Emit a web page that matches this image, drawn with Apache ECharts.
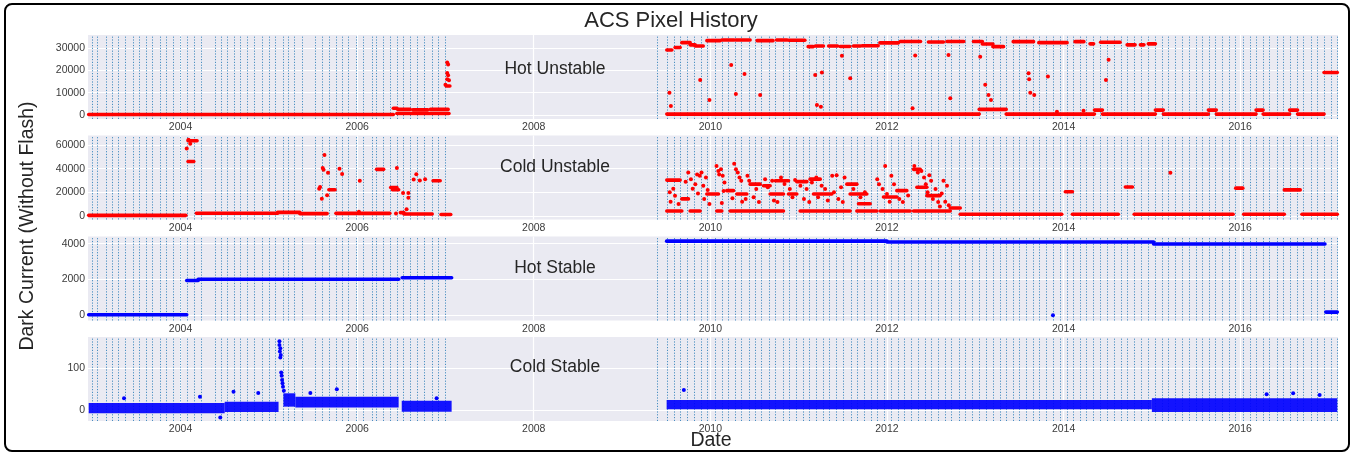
<!DOCTYPE html>
<html><head><meta charset="utf-8">
<script src="https://cdn.jsdelivr.net/npm/echarts@6/dist/echarts.min.js"></script>
<style>html,body{margin:0;padding:0;background:#fff}#c{width:1354px;height:453px}</style>
</head><body><div id="c"></div>
<script>
// ---------- data (decimal years) ----------
const yearTicks = [2004, 2006, 2008, 2010, 2012, 2014, 2016];
const annealDates = [
  2003.001, 2003.058, 2003.160, 2003.232, 2003.300, 2003.371, 2003.470, 2003.533, 2003.613, 2003.685,
  2003.771, 2003.844, 2003.918, 2004.002, 2004.077, 2004.156, 2004.229, 2004.387, 2004.462, 2004.530,
  2004.606, 2004.682, 2004.761, 2004.840, 2004.920, 2004.999, 2005.073, 2005.164, 2005.221, 2005.289,
  2005.376, 2005.531, 2005.606, 2005.682, 2005.761, 2005.833, 2005.897, 2005.991, 2006.067, 2006.166,
  2006.222, 2006.297, 2006.370, 2006.449, 2006.524, 2006.600, 2006.679, 2006.762, 2006.845, 2006.925,
  2007.000,
  2009.398, 2009.511, 2009.590, 2009.662, 2009.745, 2009.820, 2009.896, 2009.967, 2010.051, 2010.130,
  2010.202, 2010.278, 2010.352, 2010.436, 2010.508, 2010.584, 2010.670, 2010.738, 2010.817, 2010.893,
  2010.972, 2011.048, 2011.119, 2011.202, 2011.281, 2011.349, 2011.429, 2011.508, 2011.587, 2011.663,
  2011.739, 2011.818, 2011.893, 2011.972, 2012.045, 2012.131, 2012.199, 2012.271, 2012.351, 2012.430,
  2012.501, 2012.577, 2012.660, 2012.731, 2012.819, 2012.890, 2012.969, 2013.045, 2013.121, 2013.196,
  2013.275, 2013.351, 2013.427, 2013.502, 2013.578, 2013.657, 2013.728, 2013.804, 2013.875, 2013.959,
  2014.042, 2014.113, 2014.186, 2014.261, 2014.344, 2014.424, 2014.498, 2014.574, 2014.650, 2014.725,
  2014.804, 2014.880, 2014.956, 2015.035, 2015.115, 2015.189, 2015.265, 2015.337, 2015.416, 2015.500,
  2015.571, 2015.650, 2015.722, 2015.801, 2015.877, 2015.953, 2016.032, 2016.107, 2016.183, 2016.259,
  2016.333, 2016.421, 2016.489, 2016.568, 2016.647, 2016.723, 2016.798, 2016.874, 2016.950, 2017.029,
  2017.100
];

// Hot Unstable: dense runs [startYear, endYear, value] and single points [year, value]
const hotUnstableRuns = [
  [2002.96, 2006.41, 200], [2006.41, 2006.45, 3000], [2006.46, 2006.60, 2500], [2006.63, 2006.80, 2300],
  [2006.83, 2007.03, 2500], [2006.45, 2007.04, 700], [2007.01, 2007.05, 13000],
  [2009.507, 2013.045, 400], [2013.045, 2013.35, 2500], [2013.35, 2014.35, 400], [2014.35, 2014.44, 2200],
  [2014.44, 2015.04, 400], [2015.04, 2015.13, 2200], [2015.13, 2015.64, 400], [2015.64, 2015.73, 2200],
  [2015.73, 2016.18, 400], [2016.18, 2016.26, 2200], [2016.26, 2016.56, 400], [2016.56, 2016.65, 2200],
  [2016.65, 2016.95, 400], [2016.95, 2017.10, 19000],
  [2009.507, 2009.564, 29100], [2009.601, 2009.658, 30200], [2009.677, 2009.771, 32400],
  [2009.771, 2009.828, 31400], [2009.828, 2009.919, 30900], [2009.961, 2010.11, 33300],
  [2010.13, 2010.27, 33600], [2010.29, 2010.45, 33600], [2010.53, 2010.71, 33300], [2010.75, 2010.87, 33600],
  [2010.89, 2011.07, 33500], [2011.108, 2011.165, 30600], [2011.19, 2011.28, 30900], [2011.34, 2011.44, 30900],
  [2011.47, 2011.58, 30700], [2011.62, 2011.70, 30900], [2011.72, 2011.90, 31000], [2011.92, 2012.13, 32300],
  [2012.15, 2012.38, 32900], [2012.47, 2012.64, 32700], [2012.68, 2012.87, 32900], [2012.98, 2013.08, 32900],
  [2013.08, 2013.20, 31800], [2013.20, 2013.32, 30600], [2013.43, 2013.66, 32850], [2013.72, 2014.04, 32400],
  [2014.13, 2014.23, 32850], [2014.30, 2014.34, 31850], [2014.42, 2014.64, 32600], [2014.72, 2014.81, 31400],
  [2014.87, 2014.91, 31400], [2014.96, 2015.04, 31850]
];
const hotUnstablePoints = [
  [2007.02, 23500], [2007.03, 22600], [2007.02, 18800], [2007.03, 17800], [2007.02, 16000], [2007.04, 15600],
  [2007.00, 13500],
  [2009.537, 10000], [2009.553, 4000], [2009.885, 15700], [2009.99, 6700], [2010.236, 22400], [2010.289, 9400],
  [2010.387, 18400], [2010.564, 9000], [2011.187, 17900], [2011.207, 4500], [2011.252, 3700], [2011.263, 19000],
  [2011.49, 26500], [2011.584, 16500], [2012.29, 3000], [2012.32, 26600], [2012.697, 26900], [2012.717, 7500],
  [2013.056, 26100], [2013.113, 13500], [2013.15, 9000], [2013.178, 6700], [2013.604, 18700], [2013.61, 16000],
  [2013.623, 10000], [2013.668, 9000], [2013.823, 17200], [2014.48, 15700], [2014.51, 24700],
  [2013.925, 1500], [2014.226, 1900]
];

// Cold Unstable
const coldUnstableRuns = [
  [2002.96, 2004.06, 500], [2004.085, 2004.187, 63500], [2004.085, 2004.15, 46000], [2004.18, 2005.10, 2300],
  [2005.10, 2005.35, 3000], [2005.35, 2005.66, 2000], [2005.68, 2005.75, 22200], [2005.76, 2006.37, 2200],
  [2006.22, 2006.30, 39400], [2006.38, 2006.45, 24000], [2006.40, 2006.47, 22200], [2006.49, 2006.53, 2800],
  [2006.53, 2006.85, 1700], [2006.86, 2006.94, 29700], [2006.95, 2007.06, 1200],
  [2009.507, 2009.658, 30300], [2009.507, 2009.677, 4200], [2009.677, 2009.752, 14400], [2009.771, 2009.884, 4200],
  [2009.960, 2010.092, 18600], [2010.073, 2010.130, 4200], [2010.186, 2010.262, 21400], [2010.224, 2010.828, 4200],
  [2010.300, 2010.413, 18600], [2010.451, 2010.564, 26900], [2010.602, 2010.677, 25500], [2010.677, 2010.828, 18600],
  [2010.734, 2010.885, 29700], [2010.885, 2010.979, 18600], [2010.979, 2011.093, 29000], [2011.017, 2011.583, 4200],
  [2011.130, 2011.244, 31100], [2011.168, 2011.376, 18600], [2011.546, 2011.659, 26900], [2011.583, 2011.772, 18600],
  [2011.678, 2011.810, 10300], [2011.659, 2011.886, 4200], [2011.961, 2012.112, 16000], [2012.112, 2012.225, 21400],
  [2011.924, 2012.263, 4200], [2012.301, 2012.377, 39400], [2012.339, 2012.452, 24200], [2012.452, 2012.603, 17200],
  [2012.301, 2012.716, 4200], [2012.716, 2012.830, 6700],
  [2012.83, 2013.98, 1500], [2014.02, 2014.10, 20500], [2014.10, 2014.62, 1500], [2014.70, 2014.78, 24500],
  [2014.80, 2015.92, 1500], [2015.95, 2016.03, 23500], [2016.04, 2016.50, 1500], [2016.50, 2016.68, 22000],
  [2016.70, 2017.10, 1500]
];
const coldUnstablePoints = [
  [2004.07, 57000], [2004.11, 61000], [2004.09, 64500],
  [2005.57, 23000], [2005.58, 24500], [2005.60, 14500], [2005.63, 51500], [2005.61, 40500], [2005.62, 39000],
  [2005.67, 36500], [2005.66, 17500], [2005.80, 40000], [2005.83, 35500], [2006.03, 29700], [2006.02, 3500],
  [2006.45, 40600], [2006.44, 2000], [2006.52, 19400], [2006.58, 19500], [2006.58, 15300], [2006.56, 5600],
  [2006.64, 30800], [2006.67, 35300], [2006.71, 30000], [2006.77, 31000],
  [2009.54, 20000], [2009.58, 23000], [2009.60, 17000], [2009.55, 12000], [2009.64, 10000],
  [2009.72, 29000], [2009.75, 36700], [2009.78, 31000], [2009.80, 23000], [2009.83, 26900], [2009.85, 35000],
  [2009.86, 19000], [2009.88, 34000], [2009.90, 36700], [2009.92, 25500], [2009.93, 14400], [2009.95, 32500],
  [2009.97, 22000], [2009.99, 10000],
  [2010.07, 42200], [2010.09, 38000], [2010.10, 35000], [2010.12, 39400], [2010.14, 33900], [2010.16, 28300],
  [2010.15, 21000], [2010.13, 11000],
  [2010.27, 44100], [2010.29, 39400], [2010.31, 36700], [2010.33, 32500], [2010.35, 29700], [2010.25, 15000],
  [2010.36, 12000], [2010.40, 14400], [2010.42, 33900], [2010.44, 29700], [2010.49, 15800], [2010.52, 22800],
  [2010.55, 11700],
  [2010.62, 31000], [2010.65, 24200], [2010.70, 29700], [2010.72, 13000], [2010.76, 11700], [2010.80, 32500],
  [2010.84, 27000], [2010.90, 22800], [2010.93, 15800], [2010.96, 30300],
  [2011.02, 25500], [2011.06, 14400], [2011.09, 22800], [2011.12, 11700], [2011.15, 28300], [2011.20, 32500],
  [2011.22, 15800], [2011.26, 25500], [2011.30, 22800], [2011.33, 13000], [2011.38, 33900], [2011.40, 20000],
  [2011.43, 34500], [2011.45, 14400], [2011.48, 24200], [2011.50, 11700], [2011.52, 32500],
  [2011.62, 22800], [2011.70, 15800], [2011.75, 20000], [2011.89, 31100], [2011.91, 26900], [2011.95, 22800],
  [2011.98, 42200], [2012.00, 18600], [2012.03, 12000], [2012.05, 33900], [2012.08, 26900], [2012.14, 14400],
  [2012.18, 11700], [2012.24, 17200],
  [2012.31, 42200], [2012.35, 36700], [2012.39, 38000], [2012.42, 32500], [2012.44, 26900], [2012.46, 20000],
  [2012.48, 34500], [2012.50, 29700], [2012.52, 14400], [2012.55, 22800], [2012.58, 11700], [2012.60, 8000],
  [2012.62, 19000], [2012.64, 29700], [2012.66, 12000], [2012.68, 25500], [2012.70, 9000],
  [2015.21, 36500]
];

// Hot Stable
const hotStableRuns = [
  [2002.96, 2004.07, 30], [2004.07, 2004.20, 1940], [2004.20, 2006.47, 2010], [2006.51, 2007.07, 2100],
  [2009.505, 2012.0, 4140], [2012.0, 2015.02, 4090], [2015.02, 2016.96, 3980], [2016.97, 2017.10, 180]
];
const hotStablePoints = [[2013.88, 0]];

// Cold Stable: noisy runs [startYear, endYear, low, high] and single points
const coldStableRanges = [
  [2002.96, 2004.5, -8, 17], [2004.5, 2005.11, -5, 20], [2005.165, 2005.30, 8, 40], [2005.30, 2006.47, 6, 32],
  [2006.505, 2007.07, -4, 22], [2009.505, 2015.0, 2, 24], [2015.0, 2017.10, -5, 28]
];
const coldStablePoints = [
  [2005.12, 165], [2005.12, 156], [2005.13, 148], [2005.125, 140], [2005.135, 132], [2005.13, 126],
  [2005.14, 90], [2005.145, 82], [2005.15, 72], [2005.155, 64], [2005.16, 56], [2005.17, 46],
  [2003.36, 28], [2004.22, 32], [2004.60, 44], [2004.88, 41], [2005.47, 41], [2005.77, 50], [2006.90, 28],
  [2004.45, -18], [2009.70, 48], [2016.3, 38], [2016.6, 40], [2016.9, 36]
];

const panelNames = ['Hot Unstable', 'Cold Unstable', 'Hot Stable', 'Cold Stable'];
const yTicks = [[0, 10000, 20000, 30000], [0, 20000, 40000, 60000], [0, 2000, 4000], [0, 100]];
const yRanges = [[-1790, 35820], [-3000, 68000], [-290, 4400], [-26.4, 175]];

// ---------- layout / styles ----------
const X_MIN = 2002.952, X_MAX = 2017.108;
const gridTops = [35, 135.5, 236.5, 337];
const GRID_H = 84;
const FONT = 'Liberation Sans, Arial, sans-serif';
const RED = '#ff0000', BLUE = '#0000ff';

const chart = echarts.init(document.getElementById('c'), null, {renderer: 'canvas'});

function runRender(color, width) {
  return function (params, api) {
    const p1 = api.coord([api.value(0), api.value(2)]);
    const p2 = api.coord([api.value(1), api.value(2)]);
    return {type: 'line', shape: {x1: p1[0], y1: p1[1], x2: p2[0], y2: p2[1]},
      style: {stroke: color, lineWidth: width, lineCap: 'round'}};
  };
}
function rangeRender(color) {
  return function (params, api) {
    const p1 = api.coord([api.value(0), api.value(3)]);
    const p2 = api.coord([api.value(1), api.value(2)]);
    return {type: 'rect', shape: {x: p1[0], y: p1[1], width: p2[0] - p1[0], height: p2[1] - p1[1]},
      style: {fill: color, opacity: 0.92}};
  };
}

const grids = [], xAxes = [], yAxes = [], series = [];
for (let i = 0; i < 4; i++) {
  grids.push({left: 88, right: 16, top: gridTops[i], height: GRID_H, show: true,
    backgroundColor: '#EAEAF2', borderWidth: 0, containLabel: false});
  xAxes.push({type: 'value', gridIndex: i, min: X_MIN, max: X_MAX,
    axisLine: {show: false}, axisTick: {show: false, customValues: yearTicks},
    axisLabel: {customValues: yearTicks, formatter: v => String(v), color: '#3a3a3a',
      fontSize: 10.5, fontFamily: FONT, margin: 3},
    splitLine: {show: true, lineStyle: {color: '#ffffff', width: 1.2}}});
  yAxes.push({type: 'value', gridIndex: i, min: yRanges[i][0], max: yRanges[i][1],
    axisLine: {show: false}, axisTick: {show: false, customValues: yTicks[i]},
    axisLabel: {customValues: yTicks[i], formatter: v => String(v), color: '#3a3a3a',
      fontSize: 10.5, fontFamily: FONT, margin: 3},
    splitLine: {show: true, lineStyle: {color: '#ffffff', width: 1.2}}});
}

const runSets = [hotUnstableRuns, coldUnstableRuns, hotStableRuns];
const pointSets = [hotUnstablePoints, coldUnstablePoints, hotStablePoints, coldStablePoints];
const colors = [RED, RED, BLUE, BLUE];

for (let i = 0; i < 4; i++) {
  series.push({type: 'scatter', xAxisIndex: i, yAxisIndex: i, data: pointSets[i], z: 4,
    symbol: 'circle', symbolSize: 4, itemStyle: {color: colors[i], opacity: 1}, silent: true,
    markLine: {z: 1, silent: true, symbol: ['none', 'none'], label: {show: false},
      lineStyle: {color: '#1f77b4', width: 1, type: [1.2, 1.6], opacity: 0.8},
      emphasis: {disabled: true},
      data: annealDates.map(d => ({xAxis: d}))}});
  if (i < 3) {
    series.push({type: 'custom', xAxisIndex: i, yAxisIndex: i, data: runSets[i], z: 3, silent: true,
      encode: {x: [0, 1], y: 2}, renderItem: runRender(colors[i], 3.6)});
  } else {
    series.push({type: 'custom', xAxisIndex: i, yAxisIndex: i, data: coldStableRanges, z: 3, silent: true,
      encode: {x: [0, 1], y: [2, 3]}, renderItem: rangeRender(BLUE)});
  }
}

const graphics = [
  {type: 'rect', shape: {x: 5, y: 4, width: 1344, height: 447, r: 7},
    style: {fill: 'none', stroke: '#000', lineWidth: 2}, z: 100, silent: true},
  {type: 'text', x: 671, y: 21, style: {text: 'ACS Pixel History', font: '22px ' + FONT, fill: '#262626',
    textAlign: 'center', textVerticalAlign: 'middle'}, z: 100},
  {type: 'text', x: 28, y: 226, rotation: Math.PI / 2, style: {text: 'Dark Current (Without Flash)',
    font: '19.5px ' + FONT, fill: '#262626', textAlign: 'center', textVerticalAlign: 'middle'}, z: 100},
  {type: 'text', x: 711, y: 441, style: {text: 'Date', font: '19.5px ' + FONT, fill: '#262626',
    textAlign: 'center', textVerticalAlign: 'middle'}, z: 100}
];
const labelYs = [69, 167, 268, 367];
for (let i = 0; i < 4; i++) {
  graphics.push({type: 'text', x: 555, y: labelYs[i], style: {text: panelNames[i], font: '17.5px ' + FONT,
    fill: '#262626', textAlign: 'center', textVerticalAlign: 'middle'}, z: 100});
}

chart.setOption({
  animation: false,
  backgroundColor: '#ffffff',
  grid: grids, xAxis: xAxes, yAxis: yAxes, series: series, graphic: graphics
});
</script>
</body></html>
